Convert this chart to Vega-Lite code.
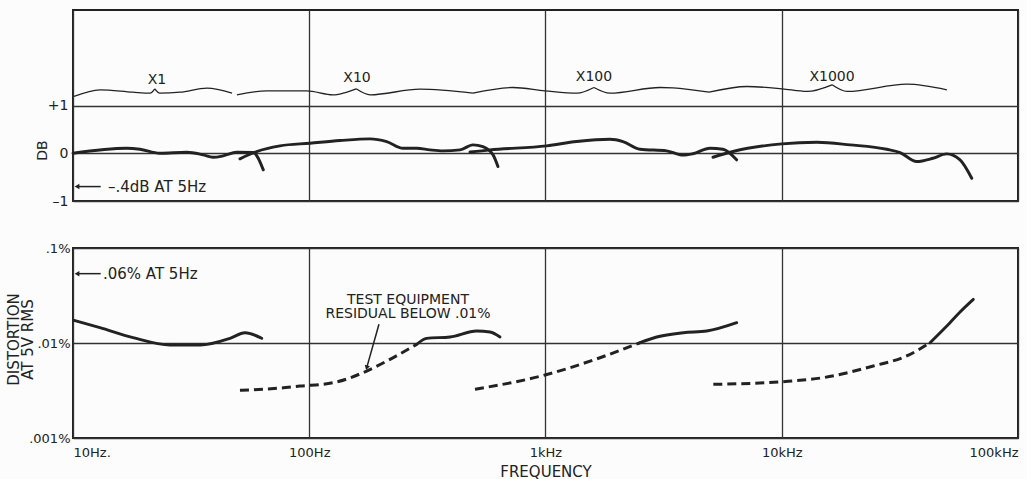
{
  "$schema": "https://vega.github.io/schema/vega-lite/v6.json",
  "background": "#fcfcfc",
  "padding": {"left": 5, "top": 9, "right": 8, "bottom": 2},
  "bounds": "flush",
  "spacing": 47,
  "config": {
    "font": "DejaVu Sans",
    "view": {"stroke": "#222", "strokeWidth": 2},
    "axis": {"labelColor": "#222", "titleColor": "#222", "gridColor": "#333", "gridWidth": 1.3, "gridOpacity": 1, "domain": false, "ticks": false, "titleFontWeight": "normal", "labelFont": "DejaVu Sans", "titleFont": "DejaVu Sans"},
    "text": {"font": "DejaVu Sans", "color": "#222"}
  },
  "datasets": {
    "gain": [
      {"f": 10.1, "db": 1.189, "s": "t1"}, {"f": 13.0, "db": 1.329, "s": "t1"}, {"f": 17.9, "db": 1.279, "s": "t1"}, {"f": 21.2, "db": 1.258, "s": "t1"}, {"f": 22.2, "db": 1.35, "s": "t1"},
      {"f": 22.2, "db": 1.35, "s": "t2"}, {"f": 23.3, "db": 1.258, "s": "t2"}, {"f": 28.4, "db": 1.279, "s": "t2"}, {"f": 36.9, "db": 1.363, "s": "t2"}, {"f": 47.1, "db": 1.258, "s": "t2"},
      {"f": 49.4, "db": 1.224, "s": "t3"}, {"f": 66.2, "db": 1.308, "s": "t3"}, {"f": 97.7, "db": 1.308, "s": "t3"}, {"f": 126, "db": 1.224, "s": "t3"}, {"f": 139, "db": 1.258, "s": "t3"}, {"f": 158, "db": 1.35, "s": "t3"},
      {"f": 158, "db": 1.35, "s": "t4"}, {"f": 181, "db": 1.224, "s": "t4"}, {"f": 294, "db": 1.342, "s": "t4"}, {"f": 493, "db": 1.258, "s": "t4"},
      {"f": 493, "db": 1.258, "s": "t5"}, {"f": 728, "db": 1.377, "s": "t5"}, {"f": 995, "db": 1.308, "s": "t5"}, {"f": 1360, "db": 1.258, "s": "t5"}, {"f": 1603, "db": 1.377, "s": "t5"},
      {"f": 1603, "db": 1.377, "s": "t6"}, {"f": 1874, "db": 1.258, "s": "t6"}, {"f": 3053, "db": 1.377, "s": "t6"}, {"f": 3465, "db": 1.37, "s": "t6"}, {"f": 4923, "db": 1.279, "s": "t6"},
      {"f": 4923, "db": 1.279, "s": "t7"}, {"f": 7130, "db": 1.398, "s": "t7"}, {"f": 10020, "db": 1.35, "s": "t7"}, {"f": 12790, "db": 1.294, "s": "t7"}, {"f": 16330, "db": 1.434, "s": "t7"},
      {"f": 16330, "db": 1.434, "s": "t8"}, {"f": 18890, "db": 1.294, "s": "t8"}, {"f": 33880, "db": 1.447, "s": "t8"}, {"f": 50000, "db": 1.329, "s": "t8"}
    ],
    "resp": [
      {"f": 10, "db": 0.0, "s": "A"}, {"f": 16.9, "db": 0.105, "s": "A"}, {"f": 19.2, "db": 0.084, "s": "A"}, {"f": 23.3, "db": 0.0, "s": "A"}, {"f": 30.3, "db": 0.021, "s": "A"}, {"f": 35.5, "db": -0.034, "s": "A"}, {"f": 39.1, "db": -0.084, "s": "A"}, {"f": 43.2, "db": -0.055, "s": "A"}, {"f": 49.3, "db": 0.021, "s": "A"}, {"f": 57.8, "db": 0.015, "s": "A"}, {"f": 63.9, "db": -0.348, "s": "A"},
      {"f": 50.9, "db": -0.117, "s": "B"}, {"f": 59.9, "db": 0.036, "s": "B"}, {"f": 75.2, "db": 0.155, "s": "B"}, {"f": 100.7, "db": 0.21, "s": "B"}, {"f": 134.9, "db": 0.266, "s": "B"}, {"f": 180.7, "db": 0.302, "s": "B"}, {"f": 212.7, "db": 0.245, "s": "B"}, {"f": 249.5, "db": 0.105, "s": "B"}, {"f": 285, "db": 0.105, "s": "B"}, {"f": 324, "db": 0.071, "s": "B"}, {"f": 368, "db": 0.05, "s": "B"}, {"f": 435, "db": 0.071, "s": "B"}, {"f": 493, "db": 0.176, "s": "B"}, {"f": 543, "db": 0.14, "s": "B"}, {"f": 600, "db": -0.034, "s": "B"}, {"f": 629, "db": -0.279, "s": "B"},
      {"f": 479, "db": 0.025, "s": "C"}, {"f": 582, "db": 0.071, "s": "C"}, {"f": 1011, "db": 0.155, "s": "C"}, {"f": 1355, "db": 0.245, "s": "C"}, {"f": 1875, "db": 0.294, "s": "C"}, {"f": 2128, "db": 0.245, "s": "C"}, {"f": 2512, "db": 0.084, "s": "C"}, {"f": 3258, "db": 0.05, "s": "C"}, {"f": 3818, "db": -0.04, "s": "C"}, {"f": 4207, "db": -0.01, "s": "C"}, {"f": 4966, "db": 0.105, "s": "C"}, {"f": 5635, "db": 0.084, "s": "C"}, {"f": 6440, "db": -0.138, "s": "C"},
      {"f": 5117, "db": -0.084, "s": "D"}, {"f": 6220, "db": 0.036, "s": "D"}, {"f": 10000, "db": 0.197, "s": "D"}, {"f": 14070, "db": 0.231, "s": "D"}, {"f": 19460, "db": 0.176, "s": "D"}, {"f": 27820, "db": 0.084, "s": "D"}, {"f": 31690, "db": 0.015, "s": "D"}, {"f": 37250, "db": -0.174, "s": "D"}, {"f": 43650, "db": -0.105, "s": "D"}, {"f": 49890, "db": -0.013, "s": "D"}, {"f": 56850, "db": -0.138, "s": "D"}, {"f": 63710, "db": -0.524, "s": "D"}
    ],
    "gainLabels": [
      {"f": 22.68, "db": 1.535, "t": "X1"},
      {"f": 159.3, "db": 1.566, "t": "X10"},
      {"f": 1604, "db": 1.587, "t": "X100"},
      {"f": 16320, "db": 1.597, "t": "X1000"}
    ],
    "topNote": [
      {"f": 10.4, "f2": 13.1, "db": -0.698, "tf": 14.06, "t": "–.4dB AT 5Hz"}
    ],
    "dist": [
      {"f": 10.1, "d": 0.01734, "s": "S1", "style": "solid"}, {"f": 13.0, "d": 0.01449, "s": "S1", "style": "solid"}, {"f": 17.95, "d": 0.01137, "s": "S1", "style": "solid"}, {"f": 25.74, "d": 0.00952, "s": "S1", "style": "solid"}, {"f": 34.48, "d": 0.00952, "s": "S1", "style": "solid"}, {"f": 46.2, "d": 0.0112, "s": "S1", "style": "solid"}, {"f": 53.46, "d": 0.01283, "s": "S1", "style": "solid"}, {"f": 62.9, "d": 0.0112, "s": "S1", "style": "solid"},
      {"f": 50.9, "d": 0.00318, "s": "S2d", "style": "dashed"}, {"f": 77.7, "d": 0.00338, "s": "S2d", "style": "dashed"}, {"f": 91.4, "d": 0.00352, "s": "S2d", "style": "dashed"}, {"f": 126.4, "d": 0.00382, "s": "S2d", "style": "dashed"}, {"f": 175.1, "d": 0.00507, "s": "S2d", "style": "dashed"}, {"f": 219.7, "d": 0.00673, "s": "S2d", "style": "dashed"}, {"f": 285.0, "d": 0.00968, "s": "S2d", "style": "dashed"},
      {"f": 285.0, "d": 0.00968, "s": "S2s", "style": "solid"}, {"f": 314.1, "d": 0.0112, "s": "S2s", "style": "solid"}, {"f": 394.3, "d": 0.01156, "s": "S2s", "style": "solid"}, {"f": 511.3, "d": 0.01337, "s": "S2s", "style": "solid"}, {"f": 582.4, "d": 0.01305, "s": "S2s", "style": "solid"}, {"f": 641.9, "d": 0.01156, "s": "S2s", "style": "solid"},
      {"f": 503.0, "d": 0.00326, "s": "S3d", "style": "dashed"}, {"f": 995, "d": 0.0046, "s": "S3d", "style": "dashed"}, {"f": 1701, "d": 0.007, "s": "S3d", "style": "dashed"}, {"f": 2512, "d": 0.01007, "s": "S3d", "style": "dashed"},
      {"f": 2512, "d": 0.01007, "s": "S3s", "style": "solid"}, {"f": 2956, "d": 0.01156, "s": "S3s", "style": "solid"}, {"f": 3831, "d": 0.01283, "s": "S3s", "style": "solid"}, {"f": 4813, "d": 0.01337, "s": "S3s", "style": "solid"}, {"f": 6447, "d": 0.01637, "s": "S3s", "style": "solid"},
      {"f": 5132, "d": 0.00367, "s": "S4d", "style": "dashed"}, {"f": 10150, "d": 0.00392, "s": "S4d", "style": "dashed"}, {"f": 14995, "d": 0.00432, "s": "S4d", "style": "dashed"}, {"f": 24410, "d": 0.00573, "s": "S4d", "style": "dashed"}, {"f": 33800, "d": 0.0073, "s": "S4d", "style": "dashed"}, {"f": 42420, "d": 0.01007, "s": "S4d", "style": "dashed"},
      {"f": 42420, "d": 0.01007, "s": "S4s", "style": "solid"}, {"f": 51540, "d": 0.01637, "s": "S4s", "style": "solid"}, {"f": 56840, "d": 0.0212, "s": "S4s", "style": "solid"}, {"f": 64700, "d": 0.0288, "s": "S4s", "style": "solid"}
    ],
    "distText": [
      {"f": 261.8, "d": 0.02836, "t": "TEST EQUIPMENT"},
      {"f": 261.8, "d": 0.02018, "t": "RESIDUAL BELOW .01%"}
    ],
    "leader": [
      {"f": 197.3, "f2": 175.1, "d": 0.01574, "d2": 0.0055}
    ],
    "leaderHead": [
      {"f": 175.1, "d": 0.0055}
    ],
    "botNote": [
      {"f": 10.4, "f2": 13.1, "d": 0.0537, "tf": 13.39, "t": ".06% AT 5Hz"}
    ]
  },
  "vconcat": [
    {
      "width": 945,
      "height": 191,
      "encoding": {
        "x": {"field": "f", "type": "quantitative", "scale": {"type": "log", "domain": [10, 100000]},
              "axis": {"values": [10, 100, 1000, 10000, 100000], "labels": false, "title": null, "grid": true}},
        "y": {"field": "db", "type": "quantitative", "scale": {"domain": [-1, 3]},
              "axis": {"values": [-1, 0, 1], "labelExpr": "datum.value > 0.5 ? '+1' : (datum.value < -0.5 ? '–1' : '0')", "labelFontSize": 14, "labelPadding": 5, "labelBaseline": "middle", "grid": true, "title": "DB", "titleFontSize": 14, "titleX": -31, "titleY": 140, "titleBaseline": "middle", "titleAlign": "center"}}
      },
      "layer": [
        {"data": {"name": "gain"}, "mark": {"type": "line", "interpolate": "monotone", "color": "#222", "strokeWidth": 1.3},
         "encoding": {"detail": {"field": "s"}}},
        {"data": {"name": "resp"}, "mark": {"type": "line", "interpolate": "monotone", "color": "#222", "strokeWidth": 2.9, "strokeCap": "round"},
         "encoding": {"detail": {"field": "s"}}},
        {"data": {"name": "gainLabels"}, "mark": {"type": "text", "fontSize": 14, "align": "center", "baseline": "middle"},
         "encoding": {"text": {"field": "t"}}},
        {"data": {"name": "topNote"}, "mark": {"type": "rule", "color": "#222", "strokeWidth": 1.5},
         "encoding": {"x2": {"field": "f2"}}},
        {"data": {"name": "topNote"}, "mark": {"type": "point", "shape": "triangle-left", "filled": true, "color": "#222", "size": 30, "opacity": 1},
         "encoding": {}},
        {"data": {"name": "topNote"}, "mark": {"type": "text", "fontSize": 15, "align": "left", "baseline": "middle"},
         "encoding": {"x": {"field": "tf", "type": "quantitative"}, "text": {"field": "t"}}}
      ]
    },
    {
      "width": 945,
      "height": 190,
      "encoding": {
        "x": {"field": "f", "type": "quantitative", "scale": {"type": "log", "domain": [10, 100000]},
              "axis": {"values": [10, 100, 1000, 10000, 100000], "labelExpr": "datum.value < 50 ? '10Hz.' : (datum.value < 500 ? '100Hz' : (datum.value < 5000 ? '1kHz' : (datum.value < 50000 ? '10kHz' : '100kHz')))", "labelFlush": true, "labelFontSize": 13, "labelPadding": 8, "grid": true, "title": "FREQUENCY", "titleFontSize": 15, "titlePadding": 5}},
        "y": {"field": "d", "type": "quantitative", "scale": {"type": "log", "domain": [0.001, 0.1]},
              "axis": {"values": [0.001, 0.01, 0.1], "labelExpr": "datum.value > 0.05 ? '.1%' : (datum.value > 0.005 ? '.01%' : '.001%')", "labelFontSize": 13, "labelPadding": 3, "labelBaseline": "middle", "grid": true, "title": ["DISTORTION", "AT 5V RMS"], "titleFontSize": 15, "titleLineHeight": 14, "titleX": -60, "titleY": 91, "titleBaseline": "middle", "titleAlign": "center"}}
      },
      "layer": [
        {"data": {"name": "dist"}, "transform": [{"filter": "datum.style == 'dashed'"}],
         "mark": {"type": "line", "interpolate": "monotone", "color": "#222", "strokeWidth": 3, "strokeDash": [9, 5]},
         "encoding": {"detail": {"field": "s"}}},
        {"data": {"name": "dist"}, "transform": [{"filter": "datum.style == 'solid'"}],
         "mark": {"type": "line", "interpolate": "monotone", "color": "#222", "strokeWidth": 2.9, "strokeCap": "round"},
         "encoding": {"detail": {"field": "s"}}},
        {"data": {"name": "distText"}, "mark": {"type": "text", "fontSize": 14, "align": "center", "baseline": "middle"},
         "encoding": {"text": {"field": "t"}}},
        {"data": {"name": "leader"}, "mark": {"type": "rule", "color": "#222", "strokeWidth": 1.5},
         "encoding": {"x2": {"field": "f2"}, "y2": {"field": "d2"}}},
        {"data": {"name": "leaderHead"}, "mark": {"type": "point", "shape": "triangle-down", "filled": true, "color": "#222", "size": 30, "angle": 16, "opacity": 1},
         "encoding": {}},
        {"data": {"name": "botNote"}, "mark": {"type": "rule", "color": "#222", "strokeWidth": 1.5},
         "encoding": {"x2": {"field": "f2"}}},
        {"data": {"name": "botNote"}, "mark": {"type": "point", "shape": "triangle-left", "filled": true, "color": "#222", "size": 30, "opacity": 1},
         "encoding": {}},
        {"data": {"name": "botNote"}, "mark": {"type": "text", "fontSize": 15, "align": "left", "baseline": "middle"},
         "encoding": {"x": {"field": "tf", "type": "quantitative"}, "text": {"field": "t"}}}
      ]
    }
  ]
}
